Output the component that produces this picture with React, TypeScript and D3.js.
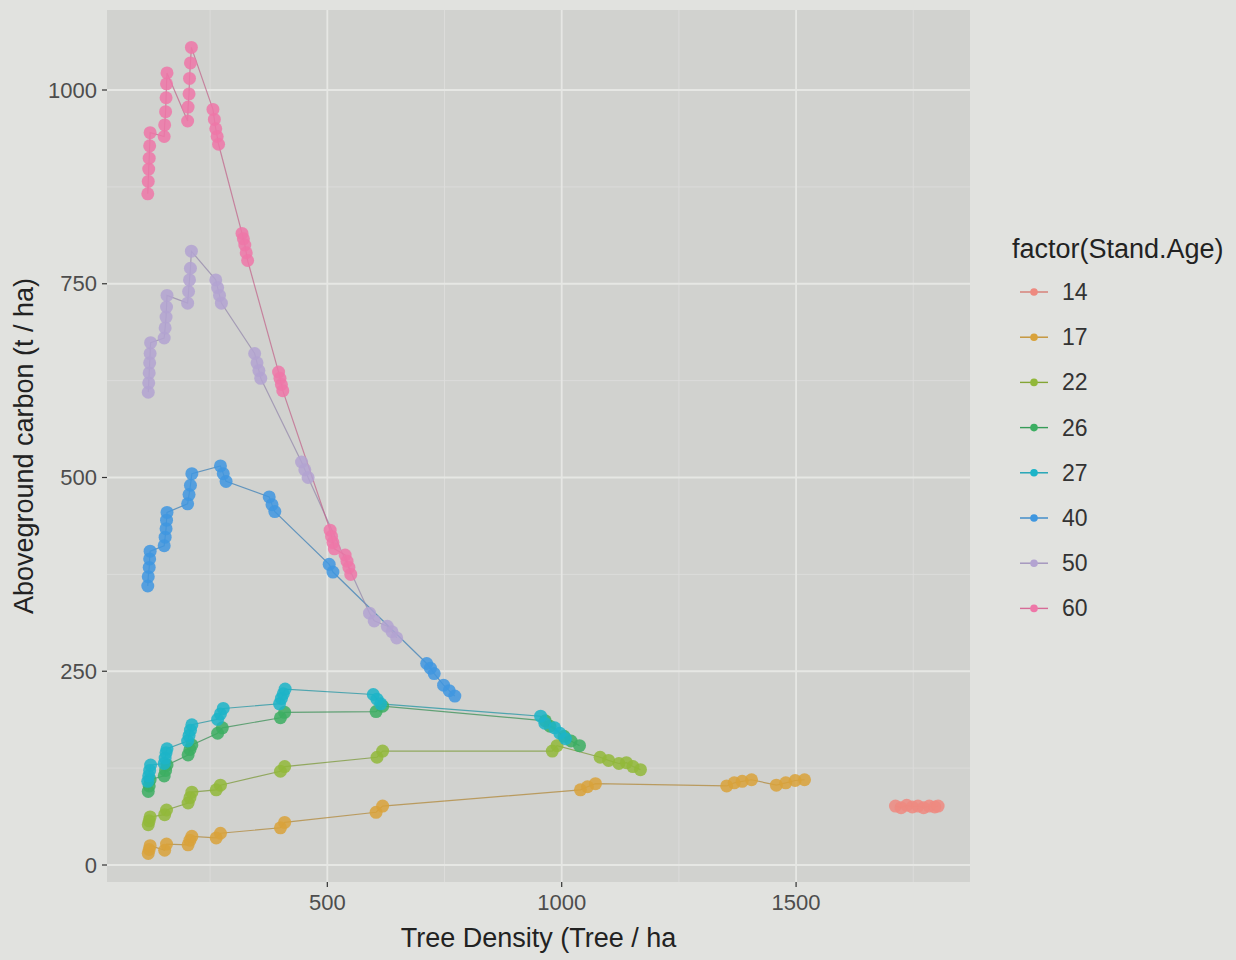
import * as d3 from "d3";

// ---- data: [tree density, aboveground carbon] per stand age ----
const ages = ["14", "17", "22", "26", "27", "40", "50", "60"];
const ageColors = ["#ee8a80", "#d9a23a", "#92b83a", "#3cae62", "#1cb4c8", "#3f97e0", "#b3a3d1", "#ee77a8"];

const age14: [number, number][] = [
  [1712, 76], [1724, 74], [1736, 77], [1748, 75], [1760, 76], [1772, 74], [1784, 76], [1796, 75], [1803, 76],
];
const age17: [number, number][] = [
  [118, 15], [120, 20], [122, 25],
  [153, 19], [157, 27],
  [203, 26], [207, 32], [211, 37],
  [263, 35], [272, 41],
  [400, 48], [409, 55],
  [604, 68], [618, 76],
  [1040, 97], [1055, 101], [1072, 105],
  [1352, 102], [1368, 106], [1385, 108], [1405, 110],
  [1458, 103], [1478, 106], [1498, 109], [1518, 110],
];
const age22: [number, number][] = [
  [118, 52], [120, 57], [122, 62],
  [153, 65], [157, 71],
  [203, 80], [207, 87], [211, 94],
  [263, 97], [272, 103],
  [400, 121], [409, 127],
  [606, 139], [618, 147],
  [980, 147], [990, 154],
  [1082, 139], [1100, 135], [1122, 131],
  [1138, 132], [1152, 127], [1168, 123],
];
const age26: [number, number][] = [
  [118, 95], [120, 102], [122, 110],
  [152, 115], [155, 122], [158, 129],
  [203, 142], [207, 149], [211, 155],
  [266, 170], [276, 177],
  [400, 190], [409, 197],
  [604, 198], [618, 205],
  [965, 186], [975, 179],
  [1005, 166], [1020, 160], [1038, 154],
];
const age27: [number, number][] = [
  [117, 108], [119, 115], [121, 122], [123, 129],
  [152, 131], [154, 138], [156, 145], [158, 150],
  [202, 160], [205, 167], [208, 174], [211, 181],
  [266, 188], [272, 195], [278, 202],
  [398, 208], [402, 215], [406, 221], [410, 227],
  [598, 220], [606, 214], [614, 208],
  [955, 192], [964, 183],
  [985, 177], [996, 170], [1008, 163],
];
const age40: [number, number][] = [
  [117, 360], [118, 372], [120, 384], [121, 395], [122, 405],
  [152, 412], [154, 423], [156, 434], [157, 445], [158, 455],
  [202, 466], [205, 478], [208, 490], [211, 505],
  [272, 515], [278, 505], [284, 495],
  [376, 475], [382, 465], [388, 456],
  [504, 388], [512, 378],
  [712, 260], [720, 254], [728, 247],
  [748, 232], [760, 225], [772, 218],
];
const age50: [number, number][] = [
  [118, 610], [119, 622], [120, 635], [121, 648], [122, 660], [123, 674],
  [152, 680], [154, 693], [156, 707], [157, 720], [158, 735],
  [202, 725], [204, 740], [206, 755], [208, 770], [210, 792],
  [262, 755], [266, 745], [270, 735], [274, 725],
  [345, 660], [350, 648], [354, 638], [358, 628],
  [445, 520], [452, 510], [459, 500],
  [590, 325], [600, 315],
  [628, 308], [638, 301], [648, 293],
];
const age60: [number, number][] = [
  [117, 866], [118, 882], [119, 898], [120, 912], [121, 928], [122, 945],
  [152, 940], [153, 955], [155, 972], [156, 990], [157, 1008], [158, 1022],
  [202, 960], [203, 978], [205, 995], [206, 1015], [208, 1035], [210, 1055],
  [256, 975], [259, 962], [262, 950], [265, 940], [268, 930],
  [318, 815], [321, 808], [324, 800], [327, 790], [330, 780],
  [396, 636], [399, 628], [402, 620], [405, 612],
  [506, 432], [509, 424], [512, 416], [515, 408],
  [538, 400], [542, 392], [546, 384], [550, 375],
];

const seriesData = [age14, age17, age22, age26, age27, age40, age50, age60];

const xTicks = [500, 1000, 1500];
const xMinor = [250, 750, 1250, 1750];
const yTicks = [0, 250, 500, 750, 1000];
const yMinor = [125, 375, 625, 875];

export default function App() {
  const W = 1236;
  const H = 960;
  const panel = { left: 107, right: 970, top: 10, bottom: 882 };

  const x = d3.scaleLinear().domain([30, 1871]).range([panel.left, panel.right]);
  const y = d3.scaleLinear().domain([0, 1000]).range([865, 90]);

  const line = d3
    .line<[number, number]>()
    .x((d) => x(d[0]))
    .y((d) => y(d[1]));

  const font = "'Liberation Sans', Arial, sans-serif";
  const legendTop = 292;
  const legendStep = 45.2;

  return (
    <svg
      width={W}
      height={H}
      style={{ position: "absolute", left: 0, top: 0, background: "#e1e2df" }}
      fontFamily={font}
    >
      {/* panel */}
      <rect
        x={panel.left}
        y={panel.top}
        width={panel.right - panel.left}
        height={panel.bottom - panel.top}
        fill="#d1d2cf"
      />
      {/* grid */}
      <g stroke="#dcdddb" strokeWidth={0.9}>
        {xMinor.map((t) => (
          <line key={"xm" + t} x1={x(t)} x2={x(t)} y1={panel.top} y2={panel.bottom} />
        ))}
        {yMinor.map((t) => (
          <line key={"ym" + t} x1={panel.left} x2={panel.right} y1={y(t)} y2={y(t)} />
        ))}
      </g>
      <g stroke="#e6e7e4" strokeWidth={1.8}>
        {xTicks.map((t) => (
          <line key={"x" + t} x1={x(t)} x2={x(t)} y1={panel.top} y2={panel.bottom} />
        ))}
        {yTicks.map((t) => (
          <line key={"y" + t} x1={panel.left} x2={panel.right} y1={y(t)} y2={y(t)} />
        ))}
      </g>

      {/* lines */}
      {seriesData.map((pts, i) => (
        <path
          key={"l" + ages[i]}
          d={line(pts) ?? ""}
          fill="none"
          stroke={d3.color(ageColors[i])!.darker(0.6).formatHex()}
          strokeOpacity={0.7}
          strokeWidth={1.2}
        />
      ))}
      {/* points */}
      {seriesData.map((pts, i) => (
        <g key={"p" + ages[i]} fill={ageColors[i]} fillOpacity={0.85}>
          {pts.map((d, j) => (
            <circle key={j} cx={x(d[0])} cy={y(d[1])} r={6.5} />
          ))}
        </g>
      ))}

      {/* axes */}
      <g stroke="#333" strokeWidth={1.2}>
        {yTicks.map((t) => (
          <line key={"yt" + t} x1={panel.left - 5} x2={panel.left} y1={y(t)} y2={y(t)} />
        ))}
        {xTicks.map((t) => (
          <line key={"xt" + t} x1={x(t)} x2={x(t)} y1={panel.bottom} y2={panel.bottom + 5} />
        ))}
      </g>
      <g fill="#4d4d4d" fontSize={22}>
        {yTicks.map((t) => (
          <text key={"yl" + t} x={panel.left - 10} y={y(t)} dy="0.35em" textAnchor="end">
            {t}
          </text>
        ))}
        {xTicks.map((t) => (
          <text key={"xl" + t} x={x(t)} y={panel.bottom + 28} textAnchor="middle">
            {t}
          </text>
        ))}
      </g>
      <text
        x={(panel.left + panel.right) / 2}
        y={947}
        textAnchor="middle"
        fontSize={27}
        fill="#222"
      >
        Tree Density (Tree / ha
      </text>
      <text
        transform={`translate(33,${(panel.top + panel.bottom) / 2}) rotate(-90)`}
        textAnchor="middle"
        fontSize={27}
        fill="#222"
      >
        Aboveground carbon (t / ha)
      </text>

      {/* legend */}
      <text x={1012} y={258} fontSize={27} fill="#222">
        factor(Stand.Age)
      </text>
      {ages.map((a, i) => {
        const cy = legendTop + i * legendStep;
        return (
          <g key={"lg" + a}>
            <line
              x1={1020}
              x2={1048}
              y1={cy}
              y2={cy}
              stroke={d3.color(ageColors[i])!.darker(0.3).formatHex()}
              strokeWidth={1.4}
            />
            <circle cx={1034} cy={cy} r={3.8} fill={ageColors[i]} />
            <text x={1062} y={cy} dy="0.35em" fontSize={23} fill="#333">
              {a}
            </text>
          </g>
        );
      })}
    </svg>
  );
}
